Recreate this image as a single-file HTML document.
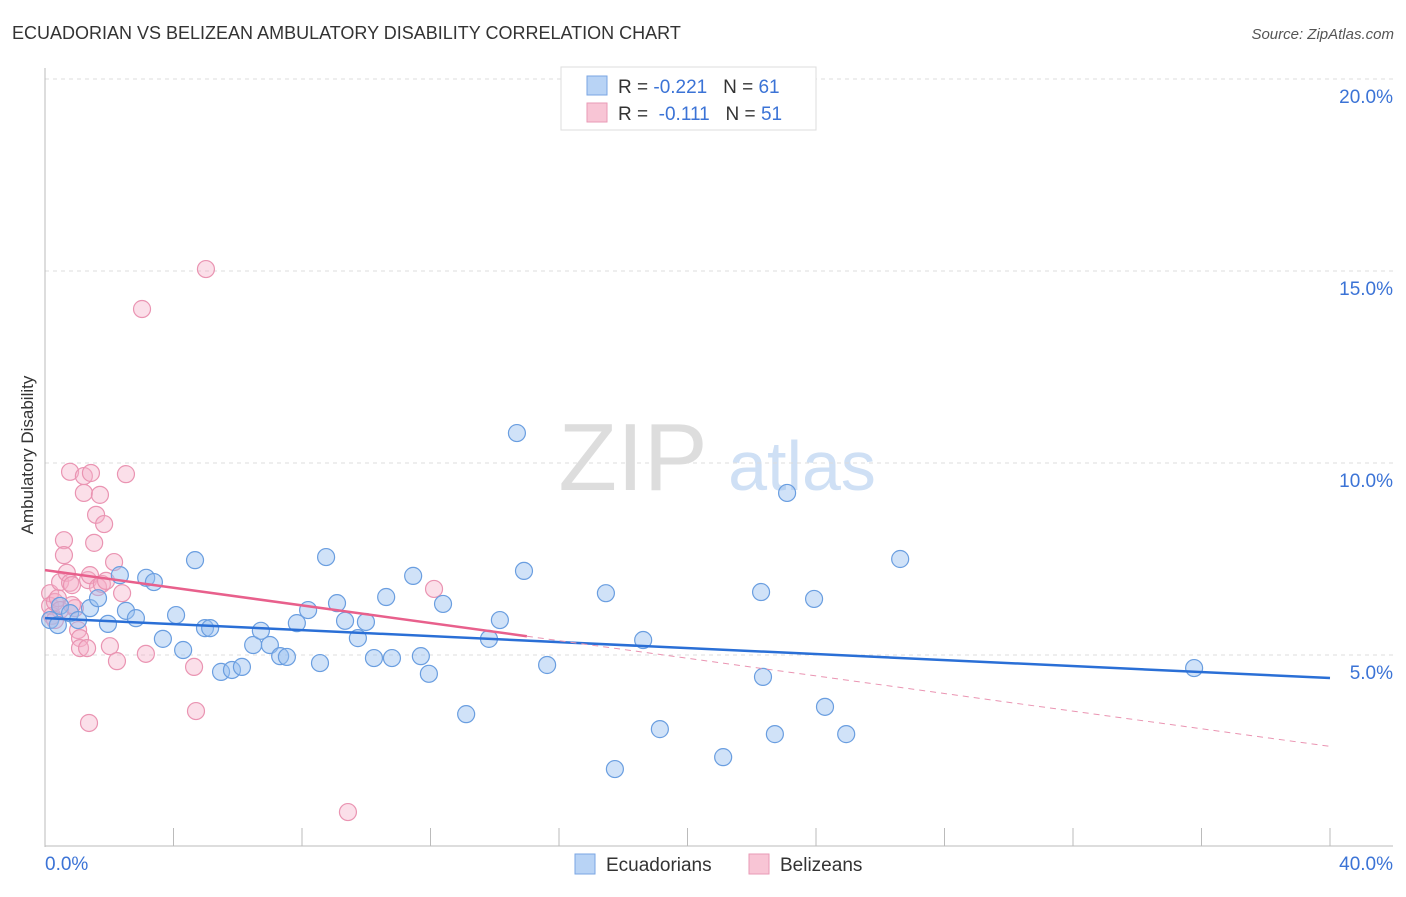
<!DOCTYPE html>
<html><head><meta charset="utf-8"><style>
body{margin:0;background:#fff;font-family:"Liberation Sans",sans-serif;}
svg text{font-family:"Liberation Sans",sans-serif;}
</style></head><body>
<svg id="chart" width="1406" height="892">
<text x="12" y="39" font-size="18" fill="#333">ECUADORIAN VS BELIZEAN AMBULATORY DISABILITY CORRELATION CHART</text>
<text x="1394" y="39" font-size="15" fill="#555" font-style="italic" text-anchor="end">Source: ZipAtlas.com</text>
<text x="33" y="455" font-size="17" fill="#333" transform="rotate(-90 33 455)" text-anchor="middle">Ambulatory Disability</text>
<g><text x="633" y="490" font-size="96" fill="#ddd" font-family="Liberation Serif" text-anchor="middle">ZIP</text><text x="802" y="490" font-size="70" fill="#cfe0f5" text-anchor="middle">atlas</text></g>
<g id="grid"></g><g id="axes"></g><g id="trend"></g><g id="pts"></g>
<g>
<rect x="561" y="67" width="255" height="63" fill="#fff" stroke="#ddd"/>
<rect x="587" y="76" width="20" height="19" fill="#b8d3f5" stroke="#7aa6e3"/>
<rect x="587" y="103" width="20" height="19" fill="#f8c5d5" stroke="#e99ab6"/>
<text x="618" y="93" font-size="19" fill="#333">R = <tspan fill="#3b73d6">-0.221</tspan>&#160;&#160;&#160;N = <tspan fill="#3b73d6">61</tspan></text>
<text x="618" y="120" font-size="19" fill="#333">R = &#160;<tspan fill="#3b73d6">-0.111</tspan>&#160;&#160;&#160;N = <tspan fill="#3b73d6">51</tspan></text>
</g>
<g>
<rect x="575" y="854" width="20" height="20" fill="#b8d3f5" stroke="#7aa6e3"/>
<text x="606" y="871" font-size="19" fill="#333">Ecuadorians</text>
<rect x="749" y="854" width="20" height="20" fill="#f8c5d5" stroke="#e99ab6"/>
<text x="780" y="871" font-size="19" fill="#333">Belizeans</text>
</g>
</svg>
<script>
const yTicks=[5,10,15,20];
const yTickLabels=["5.0%","10.0%","15.0%","20.0%"];
const xEndLabels=["0.0%","40.0%"];
const blueX=[0.16,0.40,0.47,0.78,1.03,1.40,1.65,1.96,2.33,2.52,2.83,3.15,3.39,3.67,4.08,4.30,4.67,4.98,5.14,5.48,5.82,6.13,6.48,6.72,7.00,7.32,7.53,7.84,8.19,8.56,8.75,9.09,9.34,9.74,9.99,10.24,10.62,10.80,11.46,11.70,11.95,12.39,13.11,13.82,14.16,14.69,14.91,15.63,17.46,17.74,18.62,19.14,21.11,22.29,22.35,22.72,23.10,23.94,24.28,24.94,26.62,35.77];
const blueY=[5.91,5.78,6.28,6.09,5.91,6.22,6.48,5.81,7.08,6.15,5.96,7.01,6.90,5.42,6.04,5.13,7.47,5.70,5.70,4.56,4.61,4.69,5.26,5.63,5.26,4.97,4.95,5.83,6.17,4.79,7.55,6.35,5.89,5.44,5.86,4.92,6.51,4.92,7.06,4.97,4.51,6.33,3.46,5.42,5.91,10.78,7.19,4.74,6.61,2.03,5.39,3.07,2.34,6.64,4.43,2.94,9.22,6.46,3.65,2.94,7.50,4.66];
const pinkX=[0.16,0.16,0.22,0.31,0.40,0.47,0.59,0.59,0.68,0.78,0.78,0.84,0.93,1.03,1.09,1.09,1.21,1.21,1.31,1.34,1.37,1.40,1.43,1.53,1.59,1.65,1.71,1.77,1.84,1.90,2.02,2.15,2.24,2.40,2.52,3.02,3.14,4.64,4.70,5.01,9.43,12.11,0.47,0.31,0.84];
const pinkY=[6.61,6.28,6.02,6.38,6.48,6.90,7.99,7.60,7.14,9.77,6.88,6.82,6.22,5.65,5.44,5.18,9.66,9.22,5.18,6.95,3.23,7.08,9.74,7.92,8.65,6.77,9.17,6.85,8.41,6.93,5.23,7.42,4.84,6.61,9.71,14.01,5.03,4.69,3.54,15.05,0.91,6.72,6.17,5.91,6.30];
const blueTrend=[5.96,4.40];
const pinkTrend=[7.21,2.62];
const pinkSolidEnd=15;
const NS="http://www.w3.org/2000/svg";
const X=v=>45+v/40*1285, Y=v=>847-v*38.4;
function mk(t,a,p){const e=document.createElementNS(NS,t);for(const k in a)e.setAttribute(k,a[k]);p.appendChild(e);return e;}
const grid=document.getElementById('grid'),axes=document.getElementById('axes'),trend=document.getElementById('trend'),pts=document.getElementById('pts');
yTicks.forEach((t,i)=>{
 const l=mk('line',{x1:45,x2:1393,y1:Y(t),y2:Y(t),stroke:'#ddd','stroke-dasharray':'4,4'},grid);
 
 
 const tx=mk('text',{x:1393,y:Y(t)+24,'font-size':19,fill:'#3b73d6','text-anchor':'end'},axes);
 tx.textContent=yTickLabels[i];
 
 
});
const ax=mk('line',{x1:45,x2:45,y1:68,y2:847,stroke:'#bbb'},axes);


const bx=mk('line',{x1:45,x2:1393,y1:846,y2:846,stroke:'#bbb'},axes);


for(let i=1;i<=10;i++){const tk=mk('line',{x1:X(i*4),x2:X(i*4),y1:828,y2:846,stroke:'#bbb'},axes);
 
 }
[[0,'start',45],[40,'end',1393]].forEach((d,i)=>{const t=mk('text',{x:d[2],y:870,'font-size':19,fill:'#3b73d6','text-anchor':d[1]},axes);t.textContent=xEndLabels[i];
 
 });
function pt(xs,ys,fill,stroke,name){xs.forEach((x,i)=>{const c=mk('circle',{cx:X(x),cy:Y(ys[i]),r:8.5,fill:fill,stroke:stroke,'stroke-width':1.2},pts);
 
 });}
pt(pinkX,pinkY,'rgba(246,175,200,0.4)','#ea94b2','belizean-point');
pt(blueX,blueY,'rgba(150,190,240,0.45)','#6a9ee0','ecuadorian-point');
const bl=mk('line',{x1:X(0),y1:Y(blueTrend[0]),x2:X(40),y2:Y(blueTrend[1]),stroke:'#2a6fd6','stroke-width':2.5},pts);


const ps=(pinkTrend[1]-pinkTrend[0])/40;
const pl=mk('line',{x1:X(0),y1:Y(pinkTrend[0]),x2:X(pinkSolidEnd),y2:Y(pinkTrend[0]+ps*pinkSolidEnd),stroke:'#e8608c','stroke-width':2.5},pts);


const pd=mk('line',{x1:X(pinkSolidEnd),y1:Y(pinkTrend[0]+ps*pinkSolidEnd),x2:X(40),y2:Y(pinkTrend[1]),stroke:'#ea94b2','stroke-width':1,'stroke-dasharray':'6,5'},pts);


</script>
</body></html>
